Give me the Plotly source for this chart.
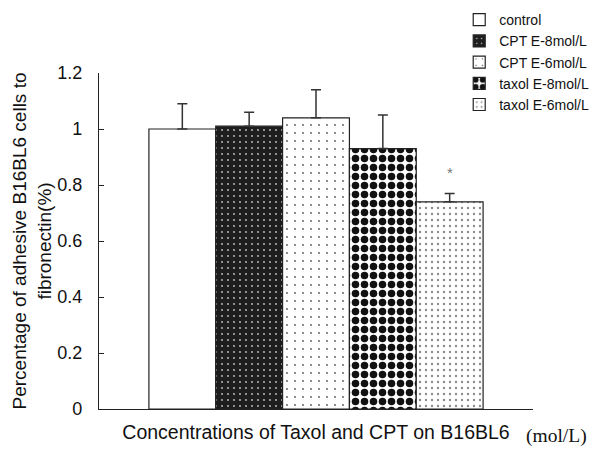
import plotly.graph_objects as go

groups = ["control", "CPT E-8mol/L", "CPT E-6mol/L", "taxol E-8mol/L", "taxol E-6mol/L"]
values = [1.00, 1.01, 1.04, 0.93, 0.74]
errors = [0.09, 0.05, 0.10, 0.12, 0.03]
y_ticks = [0, 0.2, 0.4, 0.6, 0.8, 1, 1.2]
y_tick_labels = ["0", "0.2", "0.4", "0.6", "0.8", "1", "1.2"]
star_index = 4

styles = [
    dict(color="white", pattern=dict(shape="")),
    dict(color="#1e1e1e", pattern=dict(shape=".", bgcolor="#1e1e1e", fgcolor="#c8c8c8", size=6,
                                       solidity=0.07, fillmode="replace", fgopacity=1)),
    dict(color="white", pattern=dict(shape=".", bgcolor="white", fgcolor="#555555", size=8,
                                     solidity=0.04, fillmode="replace", fgopacity=1)),
    dict(color="white", pattern=dict(shape=".", bgcolor="white", fgcolor="#111111", size=9,
                                     solidity=0.55, fillmode="replace", fgopacity=1)),
    dict(color="white", pattern=dict(shape=".", bgcolor="white", fgcolor="#8a8a8a", size=6,
                                     solidity=0.12, fillmode="replace", fgopacity=1)),
]

bargap = 0.23
fig = go.Figure()
for i, name in enumerate(groups):
    fig.add_trace(go.Bar(
        name=name,
        x=[0],
        y=[values[i]],
        marker=dict(color=styles[i]["color"], pattern=styles[i]["pattern"],
                    line=dict(color="#222222", width=1.2)),
        error_y=dict(type="data", array=[errors[i]], arrayminus=[0], symmetric=False,
                     color="#333333", thickness=1.5, width=5),
    ))

n = len(groups)
bw = (1 - bargap) / n
star_x = -(1 - bargap) / 2 + bw * (star_index + 0.5)

fig.add_annotation(x=star_x, y=values[star_index] + errors[star_index] + 0.075, xref="x", yref="y",
                   text="*", showarrow=False, font=dict(size=15, color="#777777", family="Arial"))
fig.add_annotation(x=1.053, y=-0.08, xref="paper", yref="paper", xanchor="center", yanchor="middle",
                   text="(mol/L)", showarrow=False,
                   font=dict(size=19.5, color="#111111", family="Liberation Serif"))

# page body adds an 8px offset; compensate so the plot area lands where the reference has it
fig.update_layout(
    width=597, height=441,
    barmode="group", bargap=bargap, bargroupgap=0,
    plot_bgcolor="white", paper_bgcolor="white",
    margin=dict(l=91, r=72, t=65, b=40, autoexpand=False),
    font=dict(family="Arial", color="#111111"),
    legend=dict(x=0.83, y=1.205, xanchor="left", yanchor="top", font=dict(size=14),
                bgcolor="rgba(0,0,0,0)", itemwidth=30, tracegroupgap=0),
    xaxis=dict(range=[-0.5, 0.5], showticklabels=False, ticks="", showline=True,
               linecolor="#222222", linewidth=1.2, showgrid=False, zeroline=False,
               title=dict(text="Concentrations of Taxol and CPT on B16BL6", font=dict(size=19.5), standoff=16)),
    yaxis=dict(range=[0, 1.2], tickvals=y_ticks, ticktext=y_tick_labels, ticks="inside", ticklen=5,
               tickcolor="#222222", showline=True, linecolor="#222222", linewidth=1.2,
               showgrid=False, zeroline=False, tickfont=dict(size=18), ticklabelstandoff=12,
               title=dict(text="Percentage of adhesive B16BL6 cells to<br>fibronectin(%)",
                          font=dict(size=19), standoff=0)),
)

fig.write_html("out.html")
